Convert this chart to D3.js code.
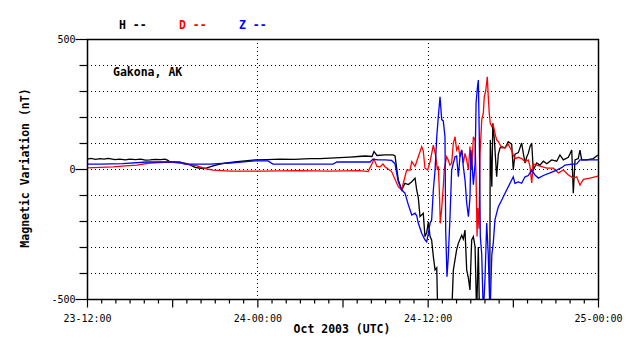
<!DOCTYPE html>
<html>
<head>
<meta charset="utf-8">
<script src="https://cdn.jsdelivr.net/npm/d3@7"></script>
<style>
  body { margin: 0; background: #fff; }
  svg { display: block; }
  text { font-family: "DejaVu Sans Mono", monospace; }
</style>
</head>
<body>
<div id="chart"></div>
<script>
// hours since 23 Oct 12:00 UTC, values in nT
const hHours = [0, 0.3, 0.6, 0.92, 1.2, 1.5, 1.97, 2.3, 2.7, 3.03, 3.4, 3.8, 4.1, 4.44, 4.8, 5.2, 5.5, 5.7, 5.85, 6.4, 6.9, 7.3, 7.61, 8.1, 8.45, 8.88, 9.3, 9.72, 10.4, 11.13, 11.84, 12.7, 13.6, 14.6, 15.71, 16.4, 17.12, 17.8, 18.53, 19.1, 19.59, 20.08, 20.22, 20.43, 20.99, 21.56,
  21.7, 21.93, 22.17, 22.4, 22.64, 22.88, 23.11, 23.23, 23.34, 23.46, 23.69, 23.81, 23.93, 24.05, 24.17, 24.28, 24.4, 24.52, 24.64, 24.71, 25.69, 25.81, 26.04, 26.16, 26.4, 26.51, 26.63, 26.75, 26.87, 26.98, 27.1, 27.22, 27.34, 27.45, 27.57, 27.65,
  28.37, 28.41, 28.52, 28.59, 28.7, 28.86, 28.98, 29.1, 29.22, 29.45, 29.68, 29.92, 30.03, 30.15, 30.39, 30.62, 30.74, 30.86, 30.98, 31.09, 31.21, 31.33, 31.44, 31.68, 31.91, 32.15, 32.39, 32.74, 33.09, 33.32, 33.56, 33.91, 34.15, 34.26, 34.38, 34.61, 34.73, 34.85, 35.2, 35.67, 36]
const hVals = [38, 41, 37, 40, 38, 41, 36, 38, 35, 38, 36, 38, 34, 35, 37, 36, 38, 33, 27, 25, 23, 15, 6, 2, 4, 12, 18, 23, 27, 31, 35, 36, 38, 37, 40, 40, 42, 44, 46, 48, 50, 48, 67, 52, 54, 54,
  50, -42, -81, -55, -60, -49, -35, -81, -110, -183, -170, -260, -245, -203, -260, -273, -337, -388, -380, -560, -560, -388, -311, -286, -255, -270, -235, -388, -420, -465, -273, -260, -300, -560, -300, -560,
  -560, 112, -68, 176, 112, -30, 57, 81, 86, 81, 105, 95, -4, 57, 63, 100, 60, 23, 47, 60, 86, 100, -4, 23, 15, 30, 20, 35, 30, 54, 35, 45, 73, -93, 35, 40, 73, 35, 35, 40, 54]

const dHours = [0, 0.92, 1.83, 2.68, 3.52, 4.44, 5.14, 5.85, 6.55, 7.05, 7.75, 8.45, 8.88, 10.07, 12.19, 15.0, 17.12, 19.23, 19.8, 20.08, 20.22, 20.43, 20.64, 20.85, 20.99,
  21.46, 21.93, 22.17, 22.28, 22.52, 22.76, 22.88, 23.11, 23.34, 23.58, 23.69, 23.81, 24.0, 24.17, 24.4, 24.57, 24.68, 24.75, 24.82, 24.89, 24.99, 25.1, 25.17, 25.27, 25.34, 25.45, 25.57, 25.69, 25.81,
  25.93, 26.04, 26.16, 26.28, 26.4, 26.51, 26.63, 26.75, 26.87, 26.98, 27.1, 27.22, 27.34, 27.41, 27.48, 27.53, 27.62, 27.69, 27.81, 27.92, 27.99, 28.09, 28.2, 28.27, 28.34, 28.41, 28.52, 28.62, 28.74, 28.86, 28.98,
  29.22, 29.45, 29.68, 29.92, 30.03, 30.15, 30.39, 30.62, 30.86, 31.09, 31.21, 31.33, 31.44, 31.68, 32.04, 32.39, 32.85, 33.21, 33.56, 33.91, 34.26, 34.5, 34.73, 34.97, 35.44, 36]
const dVals = [4, 6, 8, 12, 15, 23, 25, 27, 23, 19, 12, 0, -4, -8, -8, -6, -8, -6, -10, 20, 38, 10, 8, 19, 9,
  -10, -68, -81, -55, -4, -4, 28, 10, 47, 86, 70, 3, -4, 28, 92, 50, -4, 10, -80, -209, -150, -68, 0, 28, 47, 35, 15, 23, 100,
  124, 73, 86, 47, 73, 23, 60, 35, -4, 86, -4, 124, 110, -30, -260, -150, -230, 60, 190, 215, 278, 300, 355, 278, 215, 176, 163, 170, 138, 112, 105,
  81, 81, 95, 70, 54, 40, 45, 40, 28, 35, 9, -54, 20, 15, 9, 3, 3, -15, -4, -23, -35, -30, -62, -40, -35, -27]

const zHours = [0, 0.92, 2.5, 4.23, 6.55, 6.9, 8.67, 10.07, 11.84, 12.75, 13.1, 17.33, 17.61, 19.94, 20.15, 20.5, 20.99,
  21.46, 21.7, 21.93, 22.17, 22.4, 22.64, 22.88, 23.11, 23.23, 23.34, 23.58, 23.81, 23.93, 24.05, 24.17, 24.28, 24.4, 24.52, 24.64, 24.75, 24.87, 24.99, 25.1, 25.22, 25.27, 25.36, 25.45, 25.57, 25.69, 25.81, 25.93,
  26.04, 26.16, 26.28, 26.4, 26.51, 26.63, 26.75, 26.87, 26.98, 27.05, 27.14, 27.22, 27.34, 27.41, 27.5, 27.57, 27.64, 27.71, 27.81, 27.92, 28.04, 28.16, 28.27, 28.39, 28.52, 28.62, 28.74, 28.86, 28.98,
  29.22, 29.45, 29.68, 29.92, 30.03, 30.15, 30.39, 30.62, 30.86, 31.09, 31.33, 31.56, 31.8, 32.15, 32.62, 33.09, 33.44, 33.68, 34.03, 34.5, 34.73, 35.44, 36]
const zVals = [19, 19, 21, 27, 27, 19, 19, 23, 31, 31, 19, 19, 27, 27, 38, 35, 35,
  33, 20, -49, -80, -93, -138, -177, -170, -180, -208, -247, -273, -280, -247, -208, -196, -81, -4, 124, 201, 278, 190, 185, 124, -235, -414, -340, -190, -4, 23, 47,
  50, -30, 50, 73, 10, -42, -131, -183, -110, 73, 10, -60, 20, 254, 311, 342, 120, -260, -330, -560, -420, -208, -330, -560, -330, -286, -196, -170, -145,
  -119, -93, -68, -42, -30, -55, -50, -55, -30, -25, -4, -23, -35, -25, -15, -4, 5, 15, 18, 20, 35, 35, 35]

const yTicks = [-500, -400, -300, -200, -100, 0, 100, 200, 300, 400, 500]
const yLabels = {'-500': '-500', '0': '0', '500': '500'}
const xTickLabels = {0: '23-12:00', 12: '24-00:00', 24: '24-12:00', 36: '25-00:00'}

const width = 638, height = 359
const m = {left: 87, right: 598, top: 39, bottom: 299}

const svg = d3.select('#chart').append('svg')
  .attr('width', width).attr('height', height)

const x = d3.scaleLinear().domain([0, 36]).range([m.left, m.right])
const y = d3.scaleLinear().domain([-500, 500]).range([m.bottom, m.top])

// grid
svg.append('g').selectAll('line').data(yTicks.slice(1, -1)).enter().append('line')
  .attr('x1', m.left).attr('x2', m.right)
  .attr('y1', d => Math.round(y(d)) + 0.5).attr('y2', d => Math.round(y(d)) + 0.5)
  .attr('stroke', '#000').attr('stroke-dasharray', '1,3')
svg.append('g').selectAll('line').data([12, 24]).enter().append('line')
  .attr('x1', d => Math.round(x(d)) + 0.5).attr('x2', d => Math.round(x(d)) + 0.5)
  .attr('y1', m.top).attr('y2', m.bottom)
  .attr('stroke', '#000').attr('stroke-dasharray', '1,3')

// data lines
svg.append('clipPath').attr('id', 'plot').append('rect')
  .attr('x', m.left).attr('y', m.top).attr('width', m.right - m.left).attr('height', m.bottom - m.top)
const line = d3.line().x(d => x(d[0])).y(d => y(d[1]))
const series = [
  {hours: hHours, vals: hVals, color: '#000'},
  {hours: dHours, vals: dVals, color: '#f00'},
  {hours: zHours, vals: zVals, color: '#00f'}
]
series.forEach(s => {
  svg.append('path')
    .datum(s.hours.map((h, i) => [h, s.vals[i]]))
    .attr('clip-path', 'url(#plot)')
    .attr('fill', 'none')
    .attr('stroke', s.color)
    .attr('stroke-width', 1.3)
    .attr('d', line)
})

// frame
svg.append('rect')
  .attr('x', m.left + 0.5).attr('y', m.top + 0.5)
  .attr('width', m.right - m.left).attr('height', m.bottom - m.top)
  .attr('fill', 'none').attr('stroke', '#000').attr('stroke-width', 1.5)

// y axis
const yAxis = svg.append('g').attr('transform', `translate(${m.left + 0.5},0)`)
  .call(d3.axisLeft(y).tickValues(yTicks).tickSize(8).tickPadding(2)
    .tickFormat(d => yLabels[d] || ''))
yAxis.select('.domain').remove()
yAxis.selectAll('.tick line').attr('x2', d => yLabels[d] ? -12 : -8).attr('stroke-width', 1.2)
yAxis.selectAll('.tick text').attr('x', -12).attr('font-size', 10)
  .attr('font-family', '"DejaVu Sans Mono", monospace')

// x axis
const xAxis = svg.append('g').attr('transform', `translate(0,${m.bottom + 0.5})`)
  .call(d3.axisBottom(x).tickValues(d3.range(0, 37)).tickSize(4)
    .tickFormat(d => xTickLabels[d] || ''))
xAxis.select('.domain').remove()
xAxis.selectAll('.tick line').attr('y2', d => d % 6 === 0 ? 8 : 4).attr('stroke-width', 1.2)
xAxis.selectAll('.tick text').attr('y', 15).attr('font-size', 10)
  .attr('font-family', '"DejaVu Sans Mono", monospace')

// labels
const bold = sel => sel.attr('font-weight', 'bold').attr('font-size', 11.5)
svg.append('text').attr('x', 342).attr('y', 333).attr('text-anchor', 'middle')
  .text('Oct 2003 (UTC)').call(bold)
svg.append('text').attr('transform', 'translate(29,168) rotate(-90)').attr('text-anchor', 'middle')
  .text('Magnetic Variation (nT)').call(bold)
svg.append('text').attr('x', 113).attr('y', 76).text('Gakona, AK').call(bold)

const legend = [['H --', '#000', 119], ['D --', '#f00', 179], ['Z --', '#00f', 239]]
legend.forEach(l => {
  svg.append('text').attr('x', l[2]).attr('y', 28.5).attr('fill', l[1]).text(l[0]).call(bold)
})
</script>
</body>
</html>
